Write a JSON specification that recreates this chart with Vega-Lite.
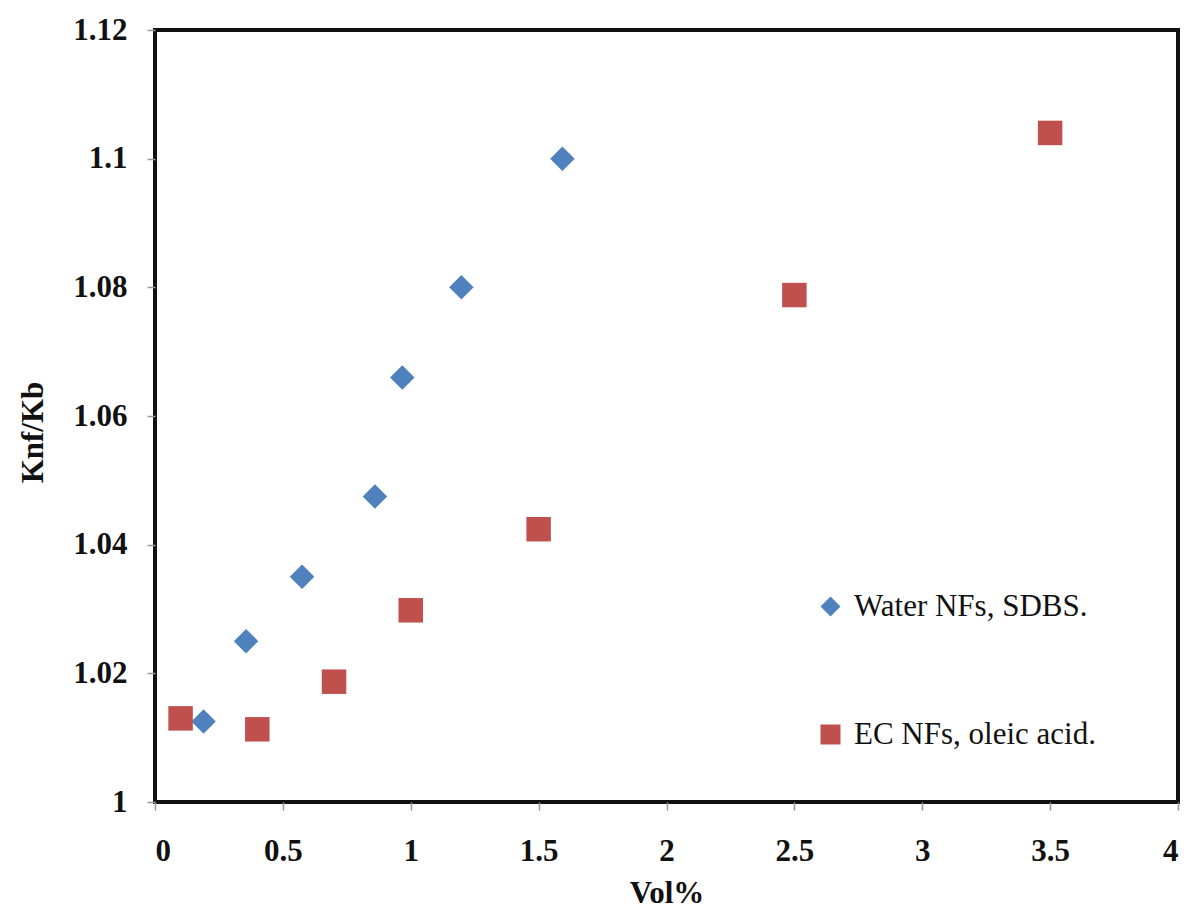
{
  "$schema": "https://vega.github.io/schema/vega-lite/v6.json",
  "width": 1023,
  "height": 772,
  "autosize": {"type": "none"},
  "padding": {"left": 155, "top": 30, "right": 25, "bottom": 108},
  "background": "white",
  "config": {
    "view": {"stroke": "#111111", "strokeWidth": 4},
    "font": "Liberation Serif",
    "axis": {
      "grid": false,
      "domain": false,
      "tickColor": "#999999",
      "tickWidth": 1.5,
      "labelFont": "Liberation Serif",
      "labelFontWeight": "bold",
      "labelFontSize": 31,
      "labelColor": "#111111",
      "titleFont": "Liberation Serif",
      "titleFontWeight": "bold",
      "titleFontSize": 31,
      "titleColor": "#111111"
    },
    "legend": {
      "labelFont": "Liberation Serif",
      "labelFontSize": 31,
      "labelColor": "#111111",
      "labelLimit": 500
    }
  },
  "data": {
    "values": [
      {"vol": 0.19, "k": 1.0125, "series": "Water NFs, SDBS."},
      {"vol": 0.356, "k": 1.025, "series": "Water NFs, SDBS."},
      {"vol": 0.575, "k": 1.035, "series": "Water NFs, SDBS."},
      {"vol": 0.86, "k": 1.0475, "series": "Water NFs, SDBS."},
      {"vol": 0.967, "k": 1.066, "series": "Water NFs, SDBS."},
      {"vol": 1.198, "k": 1.08, "series": "Water NFs, SDBS."},
      {"vol": 1.593, "k": 1.1, "series": "Water NFs, SDBS."},
      {"vol": 0.1, "k": 1.013, "series": "EC NFs, oleic acid."},
      {"vol": 0.4, "k": 1.0113, "series": "EC NFs, oleic acid."},
      {"vol": 0.7, "k": 1.0187, "series": "EC NFs, oleic acid."},
      {"vol": 1.0, "k": 1.0298, "series": "EC NFs, oleic acid."},
      {"vol": 1.5, "k": 1.0424, "series": "EC NFs, oleic acid."},
      {"vol": 2.5, "k": 1.0788, "series": "EC NFs, oleic acid."},
      {"vol": 3.5, "k": 1.104, "series": "EC NFs, oleic acid."}
    ]
  },
  "mark": {"type": "point", "filled": true, "opacity": 1, "size": 600},
  "encoding": {
    "x": {
      "field": "vol",
      "type": "quantitative",
      "title": "Vol%",
      "scale": {"domain": [0, 4], "nice": false, "zero": false},
      "axis": {
        "values": [0, 0.5, 1, 1.5, 2, 2.5, 3, 3.5, 4],
        "format": "~g",
        "tickSize": 8,
        "labelPadding": 26,
        "titleY": 91,
        "titleBaseline": "middle"
      }
    },
    "y": {
      "field": "k",
      "type": "quantitative",
      "title": "Knf/Kb",
      "scale": {"domain": [1, 1.12], "nice": false, "zero": false},
      "axis": {
        "values": [1, 1.02, 1.04, 1.06, 1.08, 1.1, 1.12],
        "format": "~g",
        "tickSize": 8,
        "labelPadding": 20,
        "titleX": -122,
        "titleY": 402,
        "titleBaseline": "middle"
      }
    },
    "color": {
      "field": "series",
      "type": "nominal",
      "sort": ["Water NFs, SDBS.", "EC NFs, oleic acid."],
      "scale": {"domain": ["Water NFs, SDBS.", "EC NFs, oleic acid."], "range": ["#4F81BD", "#C0504D"]},
      "legend": {
        "title": null,
        "orient": "none",
        "legendX": 660,
        "legendY": 561,
        "symbolSize": 400,
        "symbolStrokeWidth": 0,
        "labelOffset": 8,
        "labelLimit": 500,
        "rowPadding": 96
      }
    },
    "shape": {
      "field": "series",
      "type": "nominal",
      "sort": ["Water NFs, SDBS.", "EC NFs, oleic acid."],
      "scale": {"domain": ["Water NFs, SDBS.", "EC NFs, oleic acid."], "range": ["diamond", "square"]},
      "legend": {
        "title": null,
        "orient": "none",
        "legendX": 660,
        "legendY": 561,
        "symbolSize": 400,
        "symbolStrokeWidth": 0,
        "labelOffset": 8,
        "labelLimit": 500,
        "rowPadding": 96
      }
    }
  }
}
